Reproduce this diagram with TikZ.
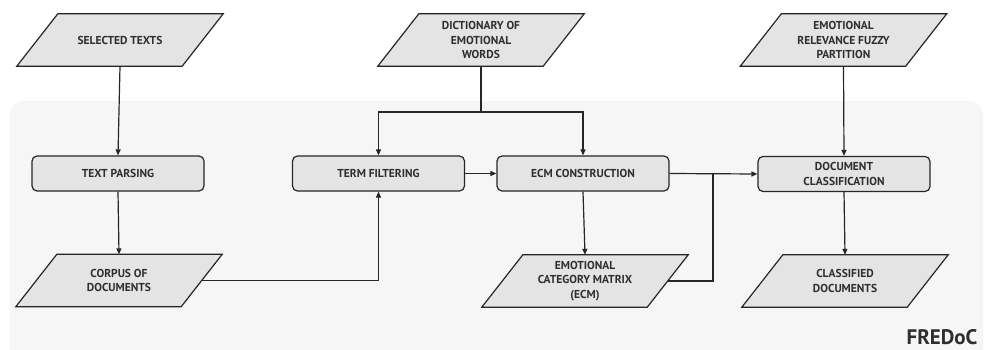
\documentclass[tikz,border=0pt]{standalone}
\usepackage{fontspec}
\setmainfont{PT Sans}
\usetikzlibrary{arrows.meta,calc}
\definecolor{bgc}{HTML}{F6F6F6}
\definecolor{boxc}{HTML}{E4E4E4}
\definecolor{txtc}{HTML}{2E2E2E}
\begin{document}
\begin{tikzpicture}[x=1pt,y=-1pt,
  lbl/.style={font=\bfseries\fontsize{11.5}{14.5}\selectfont, text=txtc, align=center},
  proc/.style={lbl, draw=black!85, line width=1.2pt, fill=boxc, rounded corners=5pt,
     minimum width=172pt, minimum height=35pt, inner sep=0pt},
  iobox/.style={lbl, minimum width=165pt, minimum height=52pt, inner sep=0pt},
  para/.style={draw=black!85, line width=1.2pt, fill=boxc, line join=miter},
  conn/.style={draw=black!85, line width=1.2pt},
  arr/.style={conn, -{Triangle[length=6pt,width=5pt]}}
]
\useasboundingbox (0,0) rectangle (1000,350);
\fill[bgc, rounded corners=14pt] (10,101) rectangle (983,362);

\newcommand{\pshape}[1]{%
  \path[para] ([xshift=20.5pt]#1.north west) -- ([xshift=20.5pt]#1.north east)
    -- ([xshift=-20.5pt]#1.south east) -- ([xshift=-20.5pt]#1.south west) -- cycle;}

% input/output nodes (shape drawn behind)
\node[iobox] (sel) at (120,40) {};
\node[iobox] (dict) at (481,40) {};
\node[iobox] (emo) at (843.5,40) {};
\node[iobox] (corpus) at (119,280.5) {};
\node[iobox] (ecmm) at (585,281) {};
\node[iobox] (cls) at (845,281) {};
\pshape{sel}\pshape{dict}\pshape{emo}\pshape{corpus}\pshape{ecmm}\pshape{cls}
\node[lbl] at (sel) {SELECTED TEXTS};
\node[lbl] at (dict) {DICTIONARY OF\\EMOTIONAL\\WORDS};
\node[lbl] at (emo) {EMOTIONAL\\RELEVANCE FUZZY\\PARTITION};
\node[lbl] at (corpus) {CORPUS OF\\DOCUMENTS};
\node[lbl] at (ecmm) {EMOTIONAL\\CATEGORY MATRIX\\(ECM)};
\node[lbl] at (cls) {CLASSIFIED\\DOCUMENTS};

% process nodes
\node[proc] (tp) at (118,173.5) {TEXT PARSING};
\node[proc] (tf) at (378.5,173.5) {TERM FILTERING};
\node[proc] (ecm) at (583,173.5) {ECM CONSTRUCTION};
\node[proc] (doc) at (844,174) {DOCUMENT\\CLASSIFICATION};

\coordinate (split) at (481,112);
\coordinate (join) at (713,173.5);

% connectors
\draw[arr] (sel.south) -- (tp.north);
\draw[arr] (tp.south) -- (corpus.north);
\draw[conn] (dict.south) -- (split);
\draw[arr] (split) -| (tf.north);
\draw[arr] (split) -| (ecm.north);
\draw[arr] (corpus.east) -| (tf.south);
\draw[arr] (tf.east) -- (ecm.west);
\draw[arr] (ecm.south) -- (ecmm.north);
\draw[arr] (ecm.east) -- (doc.west);
\draw[conn] (ecmm.east) -| (join);
\draw[arr] (emo.south) -- (doc.north);
\draw[arr] (doc.south) -- (cls.north);

\node[font=\bfseries\fontsize{21}{24}\selectfont, text=txtc, anchor=base east] (title) at (981,344) {FREDoC};
\end{tikzpicture}
\end{document}
